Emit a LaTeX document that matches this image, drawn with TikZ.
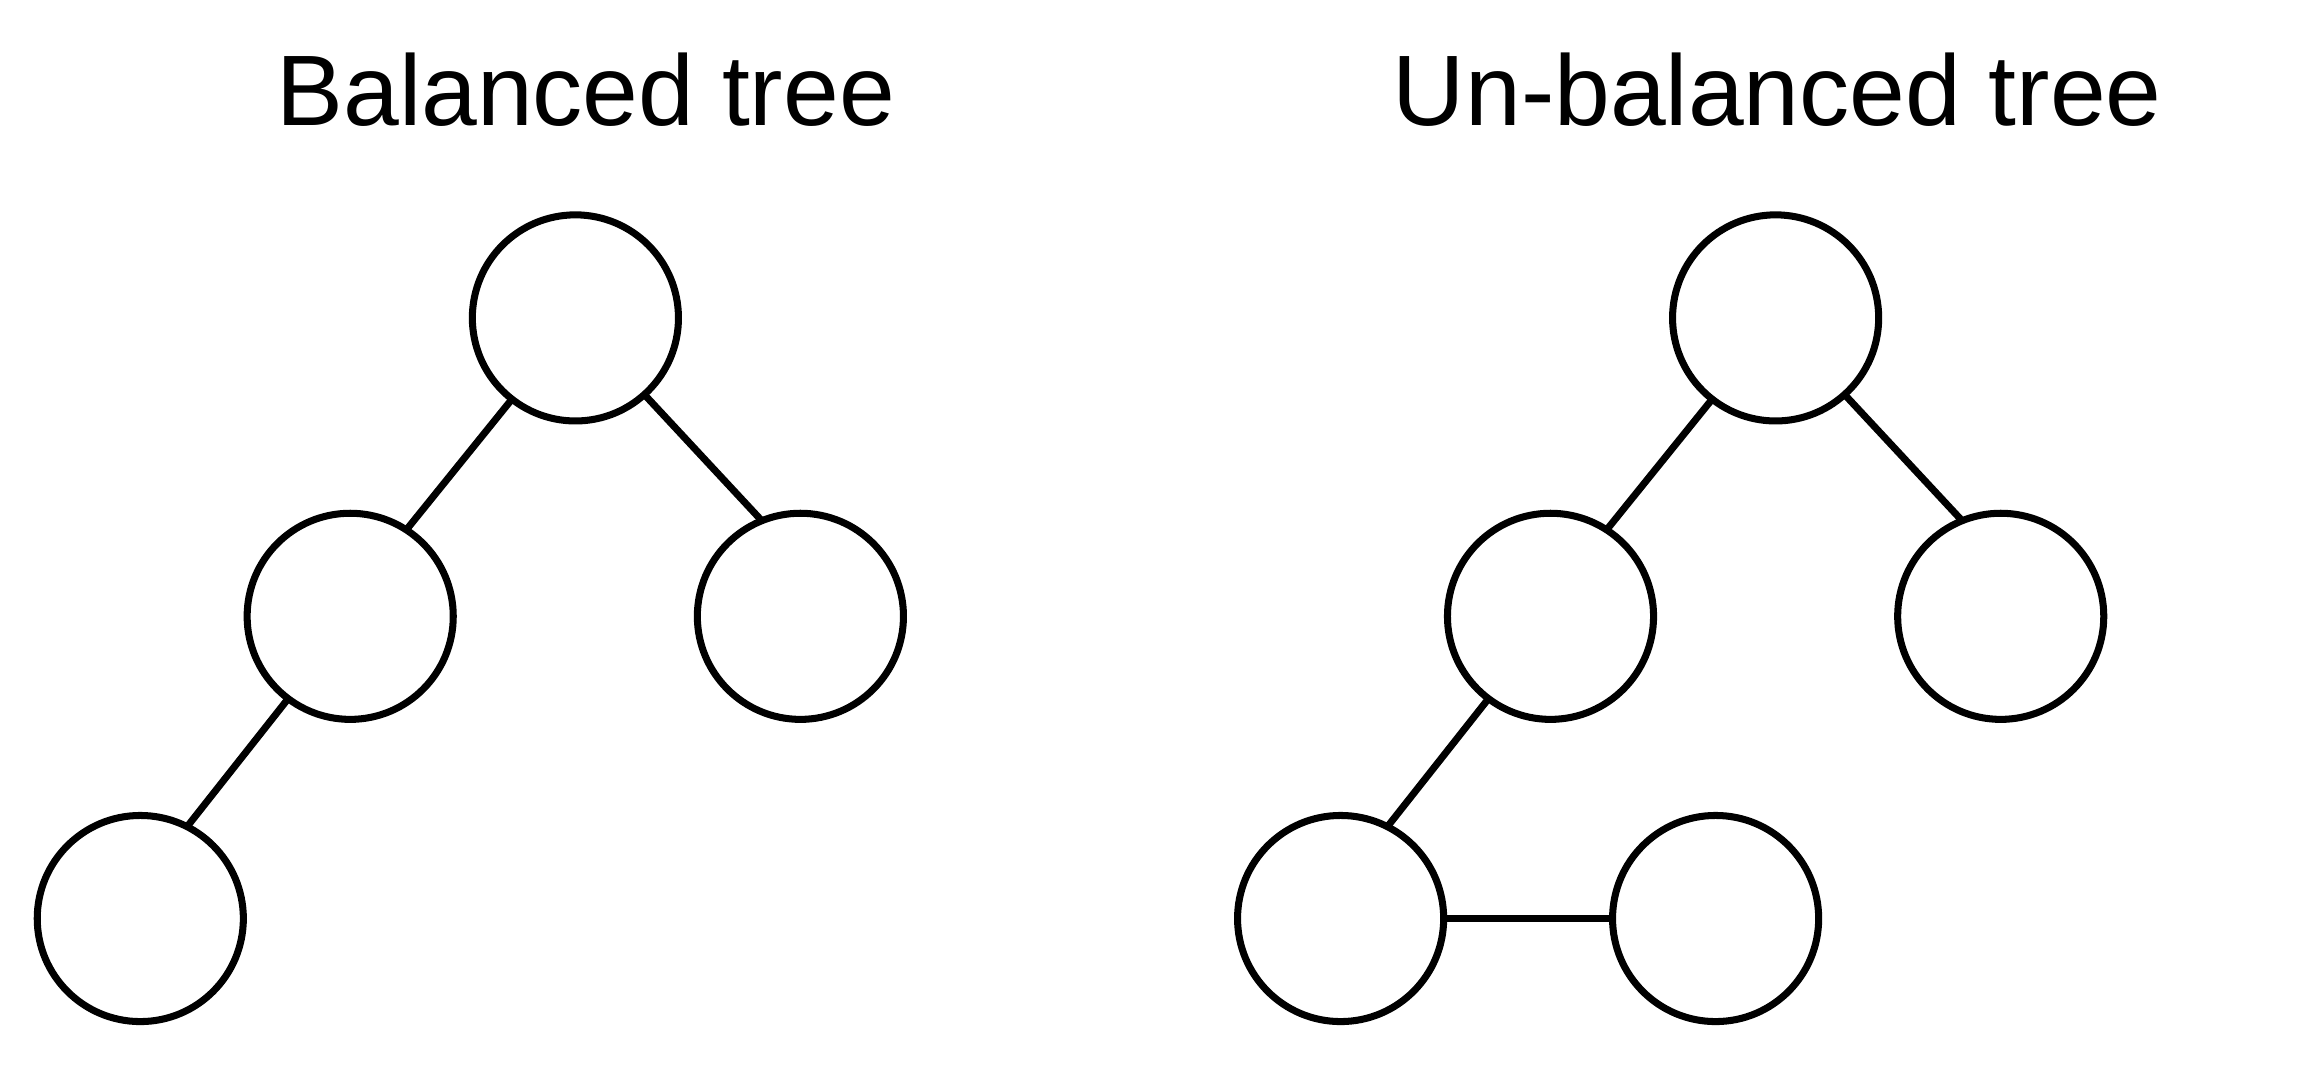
\documentclass[tikz,border=0pt]{standalone}
\usepackage{fontspec}
\setmainfont{Liberation Sans}
\begin{document}
\begin{tikzpicture}[x=0.01cm,y=-0.01cm,
  treenode/.style={circle,draw=black,line width=2pt,minimum size=2.06cm,inner sep=0pt,outer sep=0pt},
  edge/.style={draw=black,line width=2pt},
  title/.style={anchor=base,font=\fontsize{28.5pt}{34pt}\selectfont,inner sep=0pt}]
\useasboundingbox (0,0) rectangle (2322,1072);
% titles
\node[title] (t1) at (585.7,125) {Balanced tree};
\node[title] (t2) at (1777.4,125) {Un-balanced tree};
% balanced tree
\node[treenode] (a) at (575.4,317.9) {};
\node[treenode] (b) at (350.2,616.3) {};
\node[treenode] (c) at (800.4,616.3) {};
\node[treenode] (d) at (140.3,918.5) {};
\draw[edge] (a.232) -- (b.57);
\draw[edge] (a.-48) -- (c.112);
\draw[edge] (b.233) -- (d.63);
% unbalanced tree
\node[treenode] (p) at (1775.6,317.9) {};
\node[treenode] (q) at (1550.5,616.3) {};
\node[treenode] (r) at (2000.7,616.3) {};
\node[treenode] (s) at (1340.6,918.5) {};
\node[treenode] (u) at (1715.6,918.5) {};
\draw[edge] (p.232) -- (q.57);
\draw[edge] (p.-48) -- (r.112);
\draw[edge] (q.233) -- (s.63);
\draw[edge] (s.east) -- (u.west);
\end{tikzpicture}
\end{document}
